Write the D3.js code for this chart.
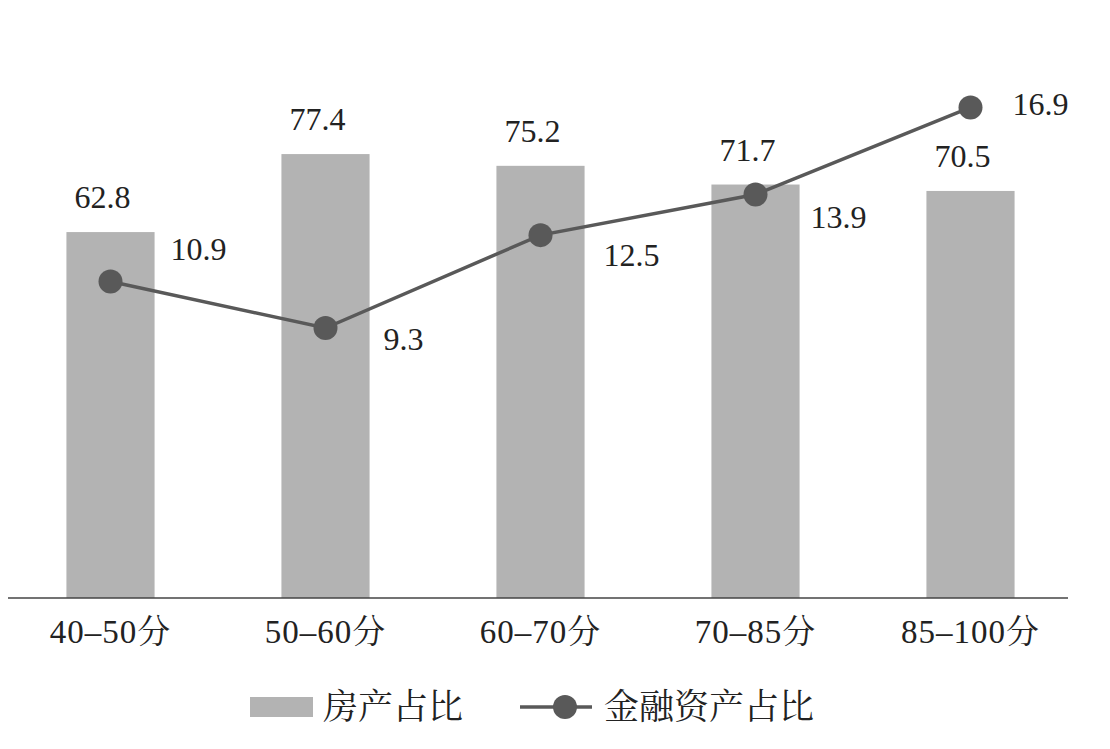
<!DOCTYPE html>
<html><head><meta charset="utf-8">
<script src="https://cdn.jsdelivr.net/npm/d3@7"></script>
<style>body{margin:0;background:#fff}</style></head>
<body><svg id="c" width="1110" height="749"></svg>
<script>
const categories=["40–50分","50–60分","60–70分","70–85分","85–100分"];
const housing=[62.8,77.4,75.2,71.7,70.5];
const financial=[10.9,9.3,12.5,13.9,16.9];
const seriesNames=["房产占比","金融资产占比"];
const font="'Liberation Serif','Noto Serif CJK SC','Noto Sans CJK SC',serif";
const svg=d3.select("#c");
const base=598;
const x=d3.scaleBand().domain(categories).range([3,1078]).paddingInner(0.59).paddingOuter(0.295);
const yL=d3.scaleLinear().domain([-5.7,90]).range([base,base-95.7*5.342]);
const yR=d3.scaleLinear().domain([0,17.6]).range([base,base-17.6*29.03]);
const cx=d=>x(d)+x.bandwidth()/2;
svg.selectAll(".bar").data(housing).join("rect").attr("x",(d,i)=>x(categories[i])).attr("width",x.bandwidth())
 .attr("y",d=>yL(d)).attr("height",d=>base-yL(d)).attr("fill","#b3b3b3");
svg.selectAll(".bl").data(housing).join("text").attr("x",(d,i)=>cx(categories[i])-8).attr("y",d=>yL(d)-24)
 .attr("text-anchor","middle").attr("font-family",font).attr("font-size",32).attr("fill","#222").text(d=>d.toFixed(1));
const ax=d3.axisBottom(x).tickSize(0).tickPadding(22);
const g=svg.append("g").attr("transform",`translate(0,${base})`).call(ax);
g.select(".domain").attr("d","M8,0H1068").attr("stroke","#444").attr("stroke-width",1.5);
g.selectAll("text").attr("font-family",font).attr("font-size",33).attr("fill","#222").attr("letter-spacing",1);
const line=d3.line().x((d,i)=>cx(categories[i])).y(d=>yR(d));
svg.append("path").datum(financial).attr("d",line).attr("fill","none").attr("stroke","#595959").attr("stroke-width",3.5);
svg.selectAll(".pt").data(financial).join("circle").attr("cx",(d,i)=>cx(categories[i])).attr("cy",d=>yR(d)).attr("r",12).attr("fill","#595959");
const dys=[-22,22,31,34,8], dxs=[88,78,91,83,70];
svg.selectAll(".ll").data(financial).join("text").attr("x",(d,i)=>cx(categories[i])+dxs[i]).attr("y",(d,i)=>yR(d)+dys[i])
 .attr("text-anchor","middle").attr("font-family",font).attr("font-size",32).attr("fill","#222").text(d=>d.toFixed(1));
const lg=svg.append("g");
lg.append("rect").attr("x",250).attr("y",697).attr("width",63).attr("height",20).attr("fill","#b3b3b3");
lg.append("text").attr("x",323).attr("y",719).attr("font-family",font).attr("font-size",35).attr("fill","#222").text(seriesNames[0]);
lg.append("line").attr("x1",520).attr("x2",592).attr("y1",707).attr("y2",707).attr("stroke","#595959").attr("stroke-width",3.5);
lg.append("circle").attr("cx",565).attr("cy",707).attr("r",12).attr("fill","#595959");
lg.append("text").attr("x",604).attr("y",719).attr("font-family",font).attr("font-size",35).attr("fill","#222").text(seriesNames[1]);
</script></body></html>
